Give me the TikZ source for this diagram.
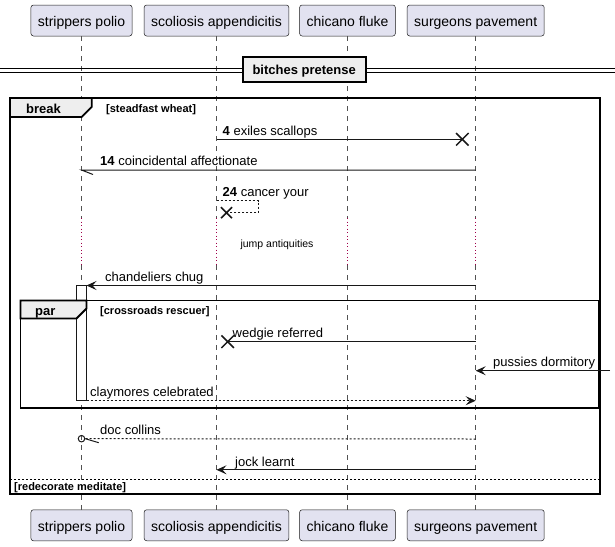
\documentclass[tikz,border=0pt]{standalone}
\usepackage{fontspec}
\setmainfont{Liberation Sans}
\usetikzlibrary{arrows.meta,shapes.misc}
\definecolor{partfill}{HTML}{E2E2F0}
\definecolor{partline}{HTML}{181818}
\definecolor{tabfill}{HTML}{EEEEEE}
\definecolor{delayred}{HTML}{A0004A}
\begin{document}
\begin{tikzpicture}[x=1pt,y=-1pt,
  participant/.style={draw=partline, fill=partfill, line width=0.5pt, rounded corners=2.5pt,
    inner xsep=7pt, minimum height=31pt, text height=12pt, text depth=0pt,
    font=\fontsize{14}{16}\selectfont},
  lifeline/.style={draw=partline!75, line width=0.7pt, dash pattern=on 5pt off 5pt},
  delayline/.style={draw=delayred, line width=1pt, dash pattern=on 1pt off 2.5pt},
  msg/.style={draw=partline, line width=1pt},
  dmsg/.style={msg, dash pattern=on 2pt off 2pt},
  arr/.style={-{Stealth[length=10pt,width=9pt,inset=4pt]}},
  lostx/.style={cross out, draw=partline, line width=1.5pt, inner sep=0pt},
  msgtext/.style={anchor=base west, inner sep=0pt, font=\fontsize{13}{15}\selectfont},
  guardtext/.style={anchor=base west, inner sep=0pt, font=\bfseries\fontsize{11}{13}\selectfont},
  frametitle/.style={anchor=base west, inner sep=0pt, font=\bfseries\fontsize{13}{15}\selectfont},
  framebox/.style={draw=black, line width=1.8pt},
  tabbox/.style={draw=black, fill=tabfill, line width=1.8pt, line join=miter},
  activation/.style={draw=partline, fill=white, line width=0.6pt}
]
\useasboundingbox (0,0) rectangle (615,546);

% participants
\node[participant] (At) at (81.5,20.5) {strippers polio};
\node[participant] (Bt) at (216.5,20.5) {scoliosis appendicitis};
\node[participant] (Ct) at (347.5,20.5) {chicano fluke};
\node[participant] (Dt) at (475.7,20.5) {surgeons pavement};
\node[participant] (Ab) at (81.5,525.25) {strippers polio};
\node[participant] (Bb) at (216.5,525.25) {scoliosis appendicitis};
\node[participant] (Cb) at (347.5,525.25) {chicano fluke};
\node[participant] (Db) at (475.7,525.25) {surgeons pavement};

% lifelines with delay section
\foreach \p/\x in {A/81.5,B/216.5,C/347.5,D/475.7}{
  \coordinate (\p d1) at (\x,218);
  \coordinate (\p d2) at (\x,265);
  \draw[lifeline] (\p t.south) -- (\p d1);
  \draw[delayline] (\p d1) -- (\p d2);
  \draw[lifeline] (\p d2) -- (\p b.north);
}

% divider
\coordinate (dvl) at (0,68.3); \coordinate (dvr) at (615,68.3);
\coordinate (dvl2) at (0,72.3); \coordinate (dvr2) at (615,72.3);
\draw[line width=1pt] (dvl) -- (dvr);
\draw[line width=1pt] (dvl2) -- (dvr2);
\draw[draw=black, fill=tabfill, line width=2pt] (242.7,56.7) rectangle (365.7,81.7);
\node[anchor=base, inner sep=0pt, font=\bfseries\fontsize{13}{15}\selectfont] (div) at (304.2,74) {bitches pretense};

% break frame
\draw[framebox] (10,98) rectangle (600,494);
\draw[tabbox] (10,98) -- (91.7,98) -- (91.7,107) -- (81.7,117) -- (10,117) -- cycle;
\node[frametitle] (brk) at (26,113) {break};
\node[guardtext] (g1) at (106,112) {[steadfast wheat]};

% par frame
\draw[framebox] (20.5,300.5) rectangle (599,408.3);
\draw[activation] (76.5,285.5) rectangle (86.5,400.7);
\coordinate (actR1) at (86.5,285.5);
\coordinate (actR2) at (86.5,400.7);
\draw[tabbox] (20.5,300.5) -- (86.5,300.5) -- (86.5,308.5) -- (76.5,318.5) -- (20.5,318.5) -- cycle;
\node[frametitle] (par) at (35,315) {par};
\node[guardtext] (g2) at (100,314.5) {[crossroads rescuer]};

% else separator
\coordinate (el) at (10,479); \coordinate (er) at (600,479);
\draw[line width=0.9pt, dash pattern=on 2pt off 2pt] (el) -- (er);
\node[guardtext] (g3) at (14,490.5) {[redecorate meditate]};

% message 4
\coordinate (m1s) at (216.5,139.3);
\node[lostx, minimum size=11pt] (x1) at (462.3,139.3) {};
\draw[msg] (m1s) -- (x1.center);
\node[msgtext] (t1) at (222.5,135) {\textbf{4} exiles scallops};

% message 14
\coordinate (m2s) at (475.7,170);
\coordinate (m2e) at (81.5,170);
\draw[msg] (m2s) -- (m2e) -- ++(11.5,4.5);
\node[msgtext] (t2) at (100,165.5) {\textbf{14} coincidental affectionate};

% message 24 self
\coordinate (m3s) at (216.5,200.5);
\coordinate (m3a) at (258.3,200.5);
\coordinate (m3b) at (258.3,212.7);
\node[lostx, minimum size=9.5pt] (x3) at (226.5,212.7) {};
\draw[dmsg] (m3s) -- (m3a) -- (m3b) -- (x3.center);
\node[msgtext] (t3) at (222.5,196.3) {\textbf{24} cancer your};

% delay text
\node[anchor=base, inner sep=0pt, font=\fontsize{10.5}{12}\selectfont] (dl) at (277,247) {jump antiquities};

% chandeliers chug
\coordinate (m4s) at (475.7,285.5);
\draw[msg, arr] (m4s) -- (actR1);
\node[msgtext] (t4) at (105,281.5) {chandeliers chug};

% wedgie referred
\coordinate (m5s) at (475.7,341.7);
\node[lostx, minimum size=11pt] (x5) at (227.7,341.7) {};
\draw[msg] (m5s) -- (x5.center);
\node[msgtext] (t5) at (232.5,337.3) {wedgie referred};

% pussies dormitory
\coordinate (m6s) at (610,370.7);
\coordinate (m6e) at (475.7,370.7);
\draw[msg, arr] (m6s) -- (m6e);
\node[msgtext] (t6) at (493,366.3) {pussies dormitory};

% claymores celebrated
\coordinate (m7e) at (475.7,400.7);
\draw[dmsg, arr] (actR2) -- (m7e);
\node[msgtext] (t7) at (90,396.3) {claymores celebrated};

% doc collins
\coordinate (m8s) at (475.7,439);
\node[draw=partline, line width=1pt, circle, inner sep=0pt, minimum size=6.5pt] (c8) at (81.5,438.7) {};
\draw[dmsg] (m8s) -- (c8.east);
\draw[msg] (c8.east) -- ++(13.5,4);
\node[msgtext] (t8) at (100,434.7) {doc collins};

% jock learnt
\coordinate (m9s) at (475.7,469.8);
\coordinate (m9e) at (216.5,469.8);
\draw[msg, arr] (m9s) -- (m9e);
\node[msgtext] (t9) at (235,466) {jock learnt};
\end{tikzpicture}
\end{document}
